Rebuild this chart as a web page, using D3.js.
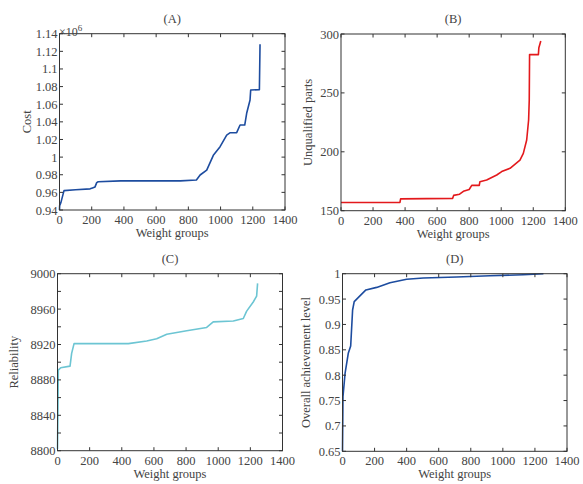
<!DOCTYPE html>
<html>
<head>
<meta charset="utf-8">
<script src="https://cdn.jsdelivr.net/npm/d3@7"></script>
<style>
  html, body { margin: 0; padding: 0; background: #fff; }
  svg { display: block; }
  text { font-family: "Liberation Serif", "Times New Roman", serif; fill: #444; }
</style>
</head>
<body>
<svg id="chart" width="583" height="484"></svg>
<script>
// ---------- data ----------
const xTicks = [0, 200, 400, 600, 800, 1000, 1200, 1400];

// (A) Cost (x10^6)
const costX = [0, 1, 9, 28, 100, 190, 205, 220, 231, 240, 380, 750, 850, 873, 914, 955, 997, 1038, 1060, 1100, 1121, 1150, 1162, 1183, 1187, 1241, 1245];
const costY = [0.940, 0.945, 0.9487, 0.962, 0.963, 0.964, 0.965, 0.966, 0.971, 0.972, 0.973, 0.973, 0.974, 0.9797, 0.9853, 1.002, 1.0118, 1.025, 1.0277, 1.0277, 1.0364, 1.0364, 1.0497, 1.0648, 1.0761, 1.0765, 1.128];
const costTicks = [0.94, 0.96, 0.98, 1.00, 1.02, 1.04, 1.06, 1.08, 1.10, 1.12, 1.14];
const costTickLabels = ["0.94", "0.96", "0.98", "1", "1.02", "1.04", "1.06", "1.08", "1.1", "1.12", "1.14"];

// (B) Unqualified parts
const partsX = [0, 368, 372, 697, 703, 740, 764, 800, 816, 863, 867, 909, 972, 1003, 1055, 1117, 1138, 1159, 1171, 1175, 1177, 1232, 1235, 1247];
const partsY = [157, 157, 160, 160.5, 163, 164, 166.5, 168, 171.5, 171.5, 174.6, 176, 180.3, 183.2, 186, 193, 198.7, 210, 227, 244, 282.5, 282.5, 288.4, 294];
const partsTicks = [150, 200, 250, 300];

// (C) Reliability
const relX = [0, 3, 5, 20, 78, 88, 103, 441, 555, 617, 680, 804, 928, 969, 1094, 1156, 1177, 1218, 1239, 1245];
const relY = [8802, 8850, 8891, 8893.7, 8895.6, 8910, 8921, 8921, 8924, 8926.5, 8931.5, 8935.5, 8939.3, 8945.6, 8946.5, 8949.4, 8957.7, 8968, 8974.6, 8989];
const relTicks = [8800, 8820, 8840, 8860, 8880, 8900, 8920, 8940, 8960, 8980, 9000];
const relTickLabels = ["8800", "", "8840", "", "8880", "", "8920", "", "8960", "", "9000"];

// (D) Overall achievement level
const levelX = [0, 3, 16, 36, 51, 63, 73, 146, 213, 296, 400, 504, 712, 920, 1128, 1253];
const levelY = [0.65, 0.7576, 0.8037, 0.843, 0.8575, 0.9285, 0.945, 0.968, 0.973, 0.9823, 0.989, 0.9916, 0.9936, 0.996, 0.998, 1.0];
const levelTicks = [0.65, 0.70, 0.75, 0.80, 0.85, 0.90, 0.95, 1.00];
const levelTickLabels = ["0.65", "0.7", "0.75", "0.8", "0.85", "0.9", "0.95", "1"];

// ---------- drawing ----------
const svg = d3.select("#chart");

function panel(cfg) {
  const g = svg.append("g");
  const x = d3.scaleLinear().domain([0, 1400]).range([cfg.left, cfg.right]);
  const y = d3.scaleLinear().domain(cfg.yDomain).range([cfg.bottom, cfg.top]);
  const tick = 3.5;
  const axisColor = "#333";

  // line
  const pts = cfg.xs.map((v, i) => [v, cfg.ys[i]]);
  g.append("path")
    .datum(pts)
    .attr("fill", "none")
    .attr("stroke", cfg.color)
    .attr("stroke-width", 1.6)
    .attr("stroke-linejoin", "round")
    .attr("d", d3.line().x(d => x(d[0])).y(d => y(d[1])));

  // box
  g.append("rect")
    .attr("x", cfg.left).attr("y", cfg.top)
    .attr("width", cfg.right - cfg.left).attr("height", cfg.bottom - cfg.top)
    .attr("fill", "none").attr("stroke", axisColor).attr("stroke-width", 1);

  // x ticks bottom + top
  xTicks.forEach(t => {
    g.append("line").attr("x1", x(t)).attr("x2", x(t)).attr("y1", cfg.bottom).attr("y2", cfg.bottom - tick).attr("stroke", axisColor);
    g.append("line").attr("x1", x(t)).attr("x2", x(t)).attr("y1", cfg.top).attr("y2", cfg.top + tick).attr("stroke", axisColor);
    g.append("text").attr("x", x(t)).attr("y", cfg.bottom + 14)
      .attr("text-anchor", "middle").attr("font-size", 12.5).text(t);
  });
  // y ticks left + right
  cfg.yTicks.forEach((t, i) => {
    g.append("line").attr("x1", cfg.left).attr("x2", cfg.left + tick).attr("y1", y(t)).attr("y2", y(t)).attr("stroke", axisColor);
    g.append("line").attr("x1", cfg.right).attr("x2", cfg.right - tick).attr("y1", y(t)).attr("y2", y(t)).attr("stroke", axisColor);
    const lab = cfg.yLabels ? cfg.yLabels[i] : String(t);
    if (lab) {
      g.append("text").attr("x", cfg.left - 2).attr("y", y(t) + 4.5)
        .attr("text-anchor", "end").attr("font-size", 12.5).text(lab);
    }
  });
  // titles
  g.append("text").attr("x", (cfg.left + cfg.right) / 2).attr("y", cfg.top - 11)
    .attr("text-anchor", "middle").attr("font-size", 12.5).text(cfg.title);
  g.append("text").attr("x", (cfg.left + cfg.right) / 2).attr("y", cfg.bottom + 27)
    .attr("text-anchor", "middle").attr("font-size", 12.5).text("Weight groups");
  g.append("text")
    .attr("transform", `translate(${cfg.yLabelX},${(cfg.top + cfg.bottom) / 2}) rotate(-90)`)
    .attr("text-anchor", "middle").attr("font-size", 12.5).text(cfg.yTitle);
  return g;
}

const gA = panel({
  left: 59.5, right: 285, top: 33.7, bottom: 210,
  yDomain: [0.94, 1.14], yTicks: costTicks, yLabels: costTickLabels,
  xs: costX, ys: costY, color: "#1d4c9f",
  title: "(A)", yTitle: "Cost", yLabelX: 31
});
// x10^6 multiplier
const mult = gA.append("text").attr("x", 59).attr("y", 36).attr("font-size", 12);
mult.append("tspan").text("\u00d710");
mult.append("tspan").attr("dy", -5).attr("font-size", 9).text("6");

panel({
  left: 341, right: 565.3, top: 34, bottom: 210.7,
  yDomain: [150, 300], yTicks: partsTicks,
  xs: partsX, ys: partsY, color: "#e3191c",
  title: "(B)", yTitle: "Unqualified parts", yLabelX: 312
});

panel({
  left: 57.5, right: 282.5, top: 273.7, bottom: 450.7,
  yDomain: [8800, 9000], yTicks: relTicks, yLabels: relTickLabels,
  xs: relX, ys: relY, color: "#6cc5d3",
  title: "(C)", yTitle: "Reliability", yLabelX: 18
});

panel({
  left: 342.5, right: 567, top: 273.7, bottom: 451.3,
  yDomain: [0.65, 1.0], yTicks: levelTicks, yLabels: levelTickLabels,
  xs: levelX, ys: levelY, color: "#1d4c9f",
  title: "(D)", yTitle: "Overall achievement level", yLabelX: 310
});
</script>
</body>
</html>
